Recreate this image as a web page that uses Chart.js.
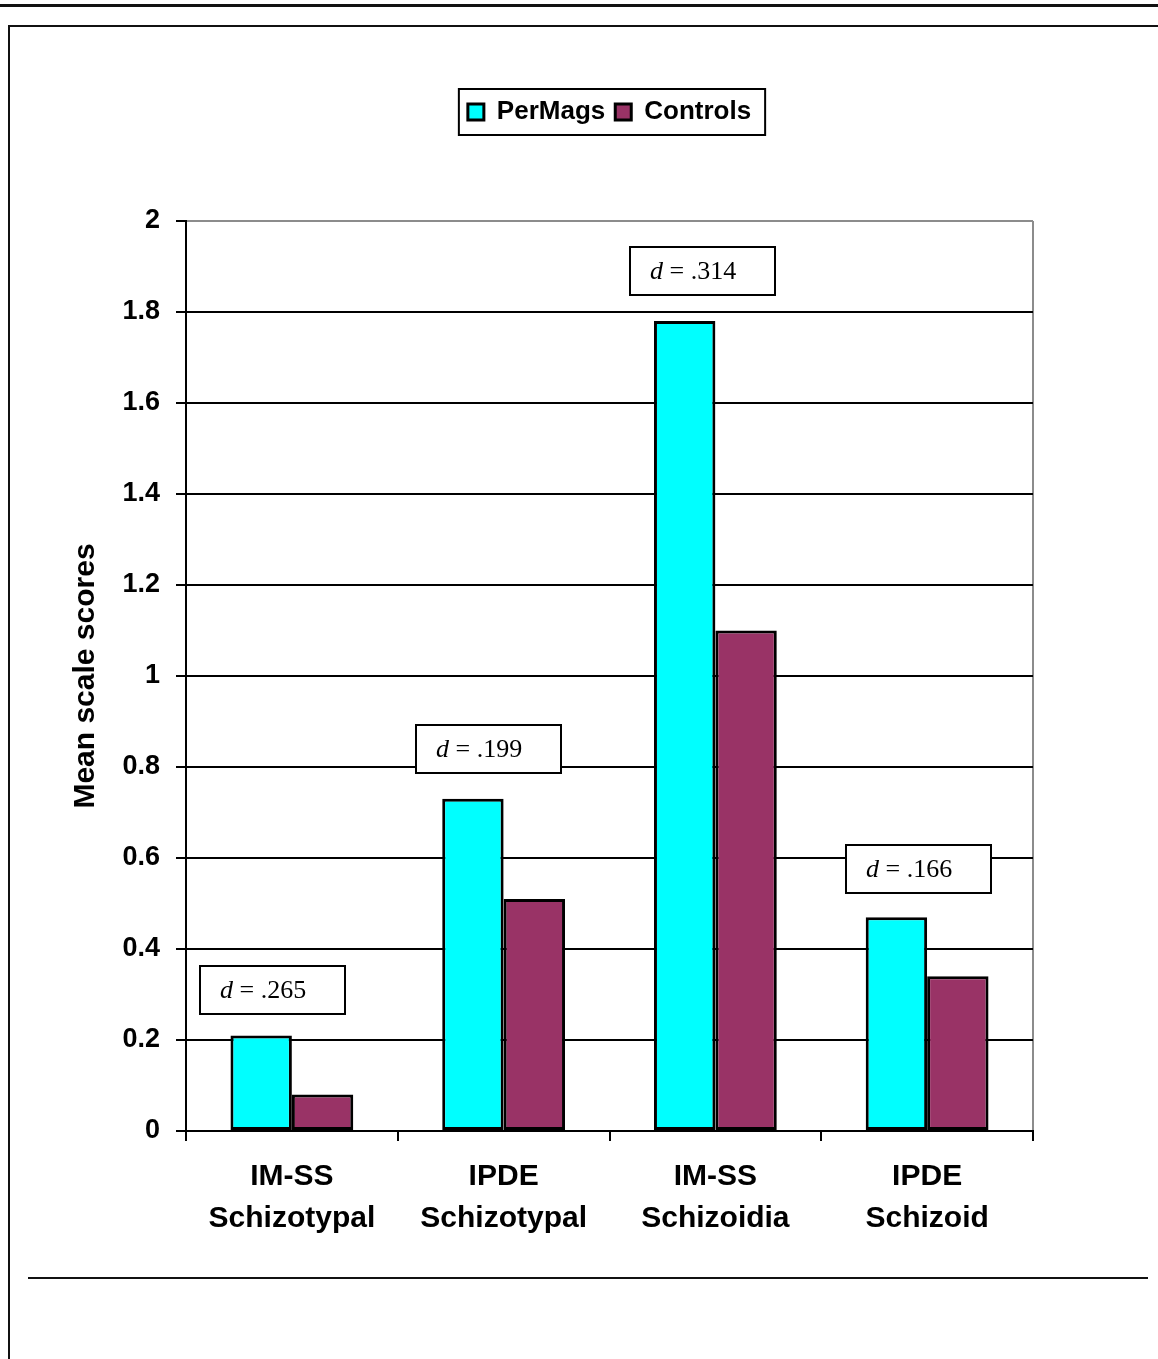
<!DOCTYPE html>
<html>
<head>
<meta charset="utf-8">
<title>Mean scale scores</title>
<script src="https://cdn.jsdelivr.net/npm/chart.js@4.4.1/dist/chart.umd.min.js"></script>
<style>
  html, body { margin: 0; padding: 0; background: #fff; overflow: hidden; }
  #wrap { position: relative; width: 1158px; height: 1359px; }
  #chart { position: absolute; left: 0; top: 0; }
  .rule { position: absolute; background: #111; }
</style>
</head>
<body>
<div id="wrap">
  <canvas id="chart" width="1158" height="1359"></canvas>
  <!-- page frame around the figure -->
  <div class="rule" style="left:0;top:4px;width:1158px;height:3px;"></div>
  <div class="rule" style="left:8px;top:25px;width:1150px;height:2px;"></div>
  <div class="rule" style="left:8px;top:25px;width:2px;height:1334px;"></div>
  <div class="rule" style="left:28px;top:1277px;width:1120px;height:2px;"></div>
</div>
<script>
// ----- data -----
const categories = [
  ['IM-SS', 'Schizotypal'],
  ['IPDE', 'Schizotypal'],
  ['IM-SS', 'Schizoidia'],
  ['IPDE', 'Schizoid'],
];
const seriesNames = ['PerMags', 'Controls'];
const perMags = [0.21, 0.73, 1.78, 0.47];
const controls = [0.08, 0.51, 1.10, 0.34];
const yTicks = ['0', '0.2', '0.4', '0.6', '0.8', '1', '1.2', '1.4', '1.6', '1.8', '2'];

// effect size boxes: text, anchor on x (category units) and y (value units)
const effectLabels = ['.265', '.199', '.314', '.166'];
const effectX = [-0.09, 0.93, 1.94, 2.96];
const effectY = [0.31, 0.84, 1.89, 0.575];

const COLORS = {
  permags: '#00ffff',
  controls: '#993366',
  line: '#000000',
  frame: '#8c8c8c',
};

const SANS = "'Liberation Sans', Arial, Helvetica, sans-serif";
const SERIF = "'Liberation Serif', 'Times New Roman', Times, serif";

Chart.defaults.font.family = SANS;
Chart.defaults.color = '#000';

// push the plot down below the legend
const legendMargin = {
  id: 'legendMargin',
  beforeInit(chart) {
    const fit = chart.legend.fit;
    chart.legend.fit = function () {
      fit.bind(chart.legend)();
      this.height += 86;
    };
  },
};

// frame around the legend items
const legendFrame = {
  id: 'legendFrame',
  afterDraw(chart) {
    const lg = chart.legend;
    if (!lg || !lg.legendHitBoxes.length) return;
    const boxes = lg.legendHitBoxes;
    const left = Math.min(...boxes.map(b => b.left)) - 9;
    const right = Math.max(...boxes.map(b => b.left + b.width)) + 14;
    const mid = boxes[0].top + boxes[0].height / 2;
    const ctx = chart.ctx;
    ctx.save();
    ctx.strokeStyle = '#000';
    ctx.lineWidth = 2;
    ctx.strokeRect(left, mid - 23, right - left, 46);
    ctx.restore();
  },
};

// "d = ..." boxes
const effectBoxes = {
  id: 'effectBoxes',
  afterDatasetsDraw(chart) {
    const { ctx, scales: { x, y } } = chart;
    const w = 145, h = 48;
    ctx.save();
    effectLabels.forEach((txt, i) => {
      const cx = x.getPixelForValue(effectX[i]);
      const cy = y.getPixelForValue(effectY[i]);
      const left = Math.round(cx - w / 2), top = Math.round(cy - h / 2);
      ctx.fillStyle = '#fff';
      ctx.fillRect(left, top, w, h);
      ctx.strokeStyle = '#000';
      ctx.lineWidth = 2;
      ctx.strokeRect(left, top, w, h);

      ctx.fillStyle = '#000';
      ctx.textBaseline = 'middle';
      ctx.textAlign = 'left';
      let tx = left + 20;
      ctx.font = `italic 26px ${SERIF}`;
      ctx.fillText('d', tx, top + h / 2 + 1);
      tx += ctx.measureText('d').width;
      ctx.font = `26px ${SERIF}`;
      ctx.fillText(' = ' + txt, tx, top + h / 2 + 1);
    });
    ctx.restore();
  },
};

new Chart(document.getElementById('chart'), {
  type: 'bar',
  data: {
    labels: categories,
    datasets: [
      {
        label: seriesNames[0],
        data: perMags,
        backgroundColor: COLORS.permags,
        borderColor: COLORS.line,
        borderWidth: 3,
        borderSkipped: false,
      },
      {
        label: seriesNames[1],
        data: controls,
        backgroundColor: COLORS.controls,
        borderColor: COLORS.line,
        borderWidth: 3,
        borderSkipped: false,
      },
    ],
  },
  options: {
    responsive: false,
    animation: false,
    devicePixelRatio: 1,
    categoryPercentage: 0.58,
    barPercentage: 1.0,
    layout: { padding: { top: 89, right: 125, bottom: 0, left: 0 } },
    plugins: {
      legend: {
        position: 'top',
        fullSize: false,
        labels: {
          boxWidth: 16,
          boxHeight: 16,
          padding: 10,
          color: '#000',
          font: { family: SANS, size: 26, weight: 'bold' },
        },
      },
      tooltip: { enabled: false },
    },
    scales: {
      x: {
        grid: {
          color: (c) => (c.type === 'scale' ? COLORS.frame : 'transparent'),
          lineWidth: 2,
          tickColor: '#000',
          tickLength: 10,
          tickWidth: 2,
        },
        border: { color: '#000', width: 2 },
        ticks: {
          color: '#000',
          padding: 15,
          maxRotation: 0,
          font: { family: SANS, size: 30, weight: 'bold', lineHeight: 1.4 },
        },
        afterFit: (scale) => { scale.height = 228; },
      },
      y: {
        min: 0,
        max: 2,
        ticks: {
          stepSize: 0.2,
          color: '#000',
          padding: 16,
          font: { family: SANS, size: 27, weight: 'bold' },
          callback: (val, i) => yTicks[i],
        },
        grid: {
          color: (c) => (c.tick && c.tick.value >= 2 ? COLORS.frame : '#000'),
          lineWidth: 2,
          tickColor: '#000',
          tickLength: 10,
          tickWidth: 2,
        },
        border: { color: '#000', width: 2 },
        title: {
          display: true,
          text: 'Mean scale scores',
          color: '#000',
          padding: { top: 68, bottom: 0 },
          font: { family: SANS, size: 30, weight: 'bold' },
        },
        afterFit: (scale) => { scale.width = 186; },
      },
    },
  },
  plugins: [legendMargin, legendFrame, effectBoxes],
});
</script>
</body>
</html>
